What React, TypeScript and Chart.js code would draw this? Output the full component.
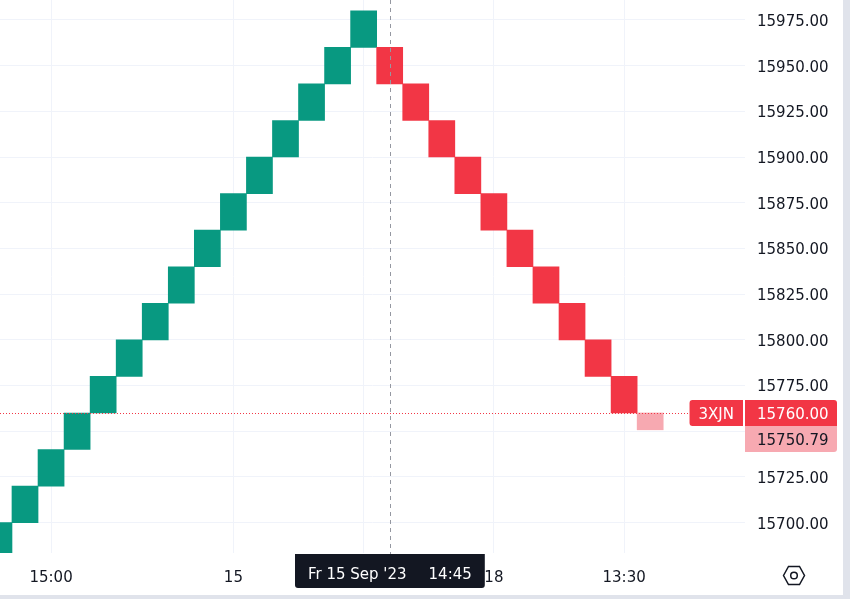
import React, { useEffect, useRef } from 'react';
import { Chart, registerables } from 'chart.js';

Chart.register(...registerables);

// ---- data ----
const brickIndex = [0, 1, 2, 3, 4, 5, 6, 7, 8, 9, 10, 11, 12, 13, 14, 15, 16, 17, 18, 19, 20, 21, 22, 23, 24, 25];
const brickOpen = [
  15680, 15700, 15720, 15740, 15760, 15780, 15800, 15820, 15840, 15860, 15880, 15900, 15920, 15940, 15960,
  15960, 15940, 15920, 15900, 15880, 15860, 15840, 15820, 15800, 15780,
  15760,
];
const brickClose = [
  15700, 15720, 15740, 15760, 15780, 15800, 15820, 15840, 15860, 15880, 15900, 15920, 15940, 15960, 15980,
  15940, 15920, 15900, 15880, 15860, 15840, 15820, 15800, 15780, 15760,
  15750.79,
];
const pendingBrickIndex = 25;

const priceTicks = [15700, 15725, 15750, 15775, 15800, 15825, 15850, 15875, 15900, 15925, 15950, 15975];
const priceMin = 15683.4;
const priceMax = 15985.9;
const indexMin = 0.04;
const indexMax = 28.64;

const timeTickPositions = [2, 9, 14, 19, 24];
const timeTickLabels = ['15:00', '15', '', '18', '13:30'];

const symbolName = '3XJN';
const lastClose = 15760.0;
const currentPrice = 15750.79;
const crosshairIndex = 15;
const crosshairDate = "Fr 15 Sep '23";
const crosshairTime = '14:45';

// ---- styles ----
const UP = '#089981';
const DOWN = '#f23645';
const PENDING = '#f7a9b1';
const TEXT = '#131722';
const GRID = '#f0f3fa';
const FONT = "'DejaVu Sans', sans-serif";

function roundRect(ctx: CanvasRenderingContext2D, x: number, y: number, w: number, h: number, r: number[]) {
  ctx.beginPath();
  (ctx as any).roundRect(x, y, w, h, r);
  ctx.fill();
}

const overlayPlugin = {
  id: 'overlay',
  afterDraw(chart: any) {
    const ctx: CanvasRenderingContext2D = chart.ctx;
    const ca = chart.chartArea;
    const xs = chart.scales.x;
    const ys = chart.scales.y;
    ctx.save();

    // crosshair vertical dashed line
    const cx = Math.round(xs.getPixelForValue(crosshairIndex)) + 0.5;
    ctx.strokeStyle = '#9598a1';
    ctx.lineWidth = 1;
    ctx.setLineDash([4, 4]);
    ctx.beginPath();
    ctx.moveTo(cx, ca.top);
    ctx.lineTo(cx, ca.bottom);
    ctx.stroke();
    ctx.setLineDash([]);
    ctx.beginPath();
    ctx.moveTo(cx, ca.bottom);
    ctx.lineTo(cx, ca.bottom + 4);
    ctx.stroke();

    // price label boxes
    ctx.font = `15px ${FONT}`;
    ctx.textBaseline = 'middle';
    const py = ys.getPixelForValue(lastClose);
    const boxH = 26;
    const boxTop = Math.round(py - boxH / 2);
    const priceBoxLeft = ca.right;
    const priceBoxW = 92;
    const symW = ctx.measureText(symbolName).width + 18;
    const symLeft = ca.right - 2 - symW;

    // dotted last price line
    ctx.strokeStyle = DOWN;
    ctx.setLineDash([1, 2]);
    ctx.beginPath();
    ctx.moveTo(ca.left, Math.round(py) + 0.5);
    ctx.lineTo(symLeft, Math.round(py) + 0.5);
    ctx.stroke();
    ctx.setLineDash([]);

    ctx.fillStyle = DOWN;
    roundRect(ctx, symLeft, boxTop, symW, boxH, [3, 0, 0, 3]);
    roundRect(ctx, priceBoxLeft, boxTop, priceBoxW, boxH, [0, 3, 0, 0]);
    ctx.fillStyle = PENDING;
    roundRect(ctx, priceBoxLeft, boxTop + boxH, priceBoxW, boxH, [0, 0, 3, 0]);

    ctx.fillStyle = '#ffffff';
    ctx.textAlign = 'center';
    ctx.fillText(symbolName, symLeft + symW / 2, boxTop + boxH / 2 + 2);
    ctx.textAlign = 'left';
    ctx.fillText(lastClose.toFixed(2), ca.right + 12, boxTop + boxH / 2 + 2);
    ctx.fillStyle = TEXT;
    ctx.fillText(currentPrice.toFixed(2), ca.right + 12, boxTop + boxH * 1.5 + 2);

    // crosshair time label
    const dW = ctx.measureText(crosshairDate).width;
    const tW = ctx.measureText(crosshairTime).width;
    const gap = 22;
    const padL = 13;
    const tipW = padL * 2 + dW + gap + tW;
    const tipLeft = Math.round(cx - tipW / 2) - 1;
    const tipTop = ca.bottom + 1;
    const tipH = 34;
    ctx.fillStyle = TEXT;
    roundRect(ctx, tipLeft, tipTop, tipW, tipH, [0, 0, 3, 3]);
    ctx.fillStyle = '#ffffff';
    ctx.fillText(crosshairDate, tipLeft + padL, tipTop + 21);
    ctx.fillText(crosshairTime, tipLeft + padL + dW + gap, tipTop + 21);

    // borders
    ctx.fillStyle = '#e0e3eb';
    ctx.fillRect(chart.width - 7, 0, 7, chart.height);
    ctx.fillRect(0, chart.height - 4, chart.width - 7, 4);

    // settings hexagon icon
    const hx = ca.right + (chart.width - 7 - ca.right) / 2;
    const hy = ca.bottom + 22.5;
    ctx.strokeStyle = TEXT;
    ctx.lineWidth = 1.5;
    ctx.beginPath();
    ctx.moveTo(hx - 10.5, hy);
    ctx.lineTo(hx - 5.5, hy - 9);
    ctx.lineTo(hx + 5.5, hy - 9);
    ctx.lineTo(hx + 10.5, hy);
    ctx.lineTo(hx + 5.5, hy + 9);
    ctx.lineTo(hx - 5.5, hy + 9);
    ctx.closePath();
    ctx.stroke();
    ctx.beginPath();
    ctx.arc(hx, hy, 3.3, 0, Math.PI * 2);
    ctx.stroke();

    ctx.restore();
  },
};

export default function App() {
  const ref = useRef<HTMLCanvasElement | null>(null);

  useEffect(() => {
    document.body.style.margin = '0';
    const canvas = ref.current;
    if (!canvas) return;
    const colors = brickIndex.map((i) =>
      i === pendingBrickIndex ? PENDING : brickClose[i] > brickOpen[i] ? UP : DOWN
    );
    const chart = new Chart(canvas, {
      type: 'bar',
      data: {
        datasets: [
          {
            data: brickIndex.map((i) => ({ x: i, y: [brickOpen[i], brickClose[i]] })) as any,
            backgroundColor: colors,
            borderWidth: 0,
            categoryPercentage: 1,
            barPercentage: 1,
          },
        ],
      },
      options: {
        animation: false,
        responsive: false,
        events: [],
        layout: { padding: 0 },
        plugins: { legend: { display: false }, tooltip: { enabled: false } },
        scales: {
          x: {
            type: 'linear',
            position: 'bottom',
            min: indexMin,
            max: indexMax,
            offset: false,
            grid: { color: GRID, drawTicks: false, offset: false },
            border: { display: false },
            afterBuildTicks: (scale: any) => {
              scale.ticks = timeTickPositions.map((v) => ({ value: v }));
            },
            afterFit: (scale: any) => {
              scale.height = 46;
              scale.paddingLeft = 0;
              scale.paddingRight = 0;
            },
            ticks: {
              autoSkip: false,
              maxRotation: 0,
              padding: 16,
              color: TEXT,
              font: { family: FONT, size: 15 },
              callback: (v: any) => {
                const idx = timeTickPositions.indexOf(Number(v));
                return idx >= 0 ? timeTickLabels[idx] : '';
              },
            },
          },
          y: {
            type: 'linear',
            position: 'right',
            min: priceMin,
            max: priceMax,
            grid: { color: GRID, drawTicks: false },
            border: { display: false },
            afterBuildTicks: (scale: any) => {
              scale.ticks = priceTicks.map((v) => ({ value: v }));
            },
            afterFit: (scale: any) => {
              scale.width = 105;
              scale.paddingTop = 0;
              scale.paddingBottom = 0;
            },
            ticks: {
              autoSkip: false,
              crossAlign: 'near',
              padding: 12,
              labelOffset: 2,
              color: TEXT,
              font: { family: FONT, size: 15 },
              callback: (v: any) => Number(v).toFixed(2),
            },
          },
        },
      } as any,
      plugins: [overlayPlugin],
    });
    return () => chart.destroy();
  }, []);

  return (
    <div style={{ position: 'absolute', left: 0, top: 0, width: 850, height: 599 }}>
      <canvas ref={ref} width={850} height={599} style={{ display: 'block' }} />
    </div>
  );
}
